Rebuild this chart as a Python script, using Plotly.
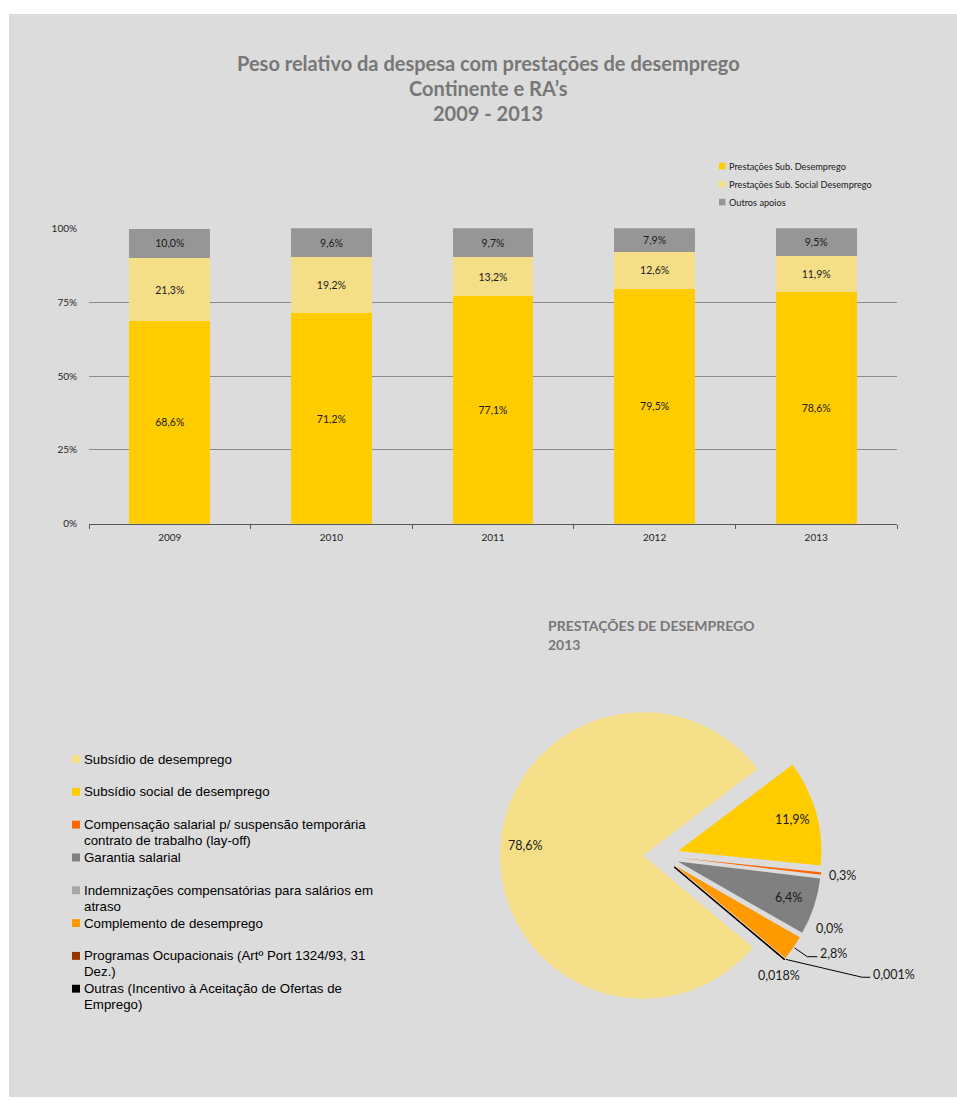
import math
import textwrap
import plotly.graph_objects as go

# ---------------- data ----------------
years = ["2009", "2010", "2011", "2012", "2013"]
sub_desemprego = [68.6, 71.2, 77.1, 79.5, 78.6]
sub_social = [21.3, 19.2, 13.2, 12.6, 11.9]
outros_apoios = [10.0, 9.6, 9.7, 7.9, 9.5]
bar_names = ["Prestações Sub. Desemprego", "Prestações Sub. Social Desemprego", "Outros apoios"]
y_ticks = [0, 25, 50, 75, 100]

pie_names = [
    "Subsídio de desemprego",
    "Subsídio social de desemprego",
    "Compensação salarial p/ suspensão temporária contrato de trabalho (lay-off)",
    "Garantia salarial",
    "Indemnizações compensatórias para salários em atraso",
    "Complemento de desemprego",
    "Programas Ocupacionais (Artº Port 1324/93, 31 Dez.)",
    "Outras (Incentivo à Aceitação de Ofertas de Emprego)",
]
pie_values = [78.6, 11.9, 0.3, 6.4, 0.0, 2.8, 0.018, 0.001]

title_lines = ["Peso relativo da despesa com prestações de desemprego", "Continente e RA’s", "2009 - 2013"]
pie_title_lines = ["PRESTAÇÕES DE DESEMPREGO", "2013"]

# ---------------- styles ----------------
W, H = 957, 1103
bar_colors = ["#FFCC00", "#F5DE88", "#969696"]
pie_colors = ["#F5DE88", "#FFCC00", "#FF6600", "#808080", "#A6A6A6", "#FF9900", "#993300", "#000000"]
BG = "#DCDCDC"
LABEL_FONT = "Lato, Open Sans, sans-serif"
LEGEND_FONT = "Liberation Sans, Arial, sans-serif"
TITLE_GRAY = "#777777"


def px(x):
    return x / W


def py(y):
    return 1 - y / H


def pct(v):
    if v == 0 or v >= 0.1:
        s = f"{v:.1f}"
    else:
        s = f"{v:.3f}"
    return s.replace(".", ",") + "%"


fig = go.Figure()

# ---------------- stacked 100% bars ----------------
for name, vals, col in zip(bar_names, [sub_desemprego, sub_social, outros_apoios], bar_colors):
    fig.add_trace(go.Bar(
        x=years, y=vals, name=name, marker=dict(color=col, line=dict(width=0)),
        text=[pct(v) for v in vals], textposition="inside", insidetextanchor="middle",
        textangle=0, textfont=dict(family=LABEL_FONT, size=10.5, color="#1a1a1a"),
        showlegend=False,
    ))

# ---------------- exploded pie ----------------
PIE_CX, PIE_CY, PIE_R, PULL, ROT = 661, 859, 145, 0.124, 130
half = PIE_R * (1 + PULL)
line_w = [0, 0, 0, 0, 0, 0, 1.3, 1.3]
fig.add_trace(go.Pie(
    labels=pie_names, values=pie_values, sort=False, direction="clockwise", rotation=ROT,
    pull=[PULL] * len(pie_values), textinfo="none", hoverinfo="label+percent",
    marker=dict(colors=pie_colors, line=dict(color=pie_colors, width=line_w)),
    domain=dict(x=[px(PIE_CX - half), px(PIE_CX + half)], y=[py(PIE_CY + half), py(PIE_CY - half)]),
    showlegend=False,
))

annotations = []
shapes = [dict(type="rect", xref="paper", yref="paper", x0=px(9), x1=1, y0=0, y1=py(7),
               fillcolor=BG, line=dict(width=0), layer="below")]

# slice mid angles (clockwise from 12 o'clock)
total = sum(pie_values)
mids = []
acc = 0
for v in pie_values:
    mids.append(ROT + (acc + v / 2) / total * 360)
    acc += v


def polar(k, ang):
    a = math.radians(ang)
    return PIE_CX + k * PIE_R * math.sin(a), PIE_CY - k * PIE_R * math.cos(a)


# label placement: (radial factor, angle offset, anchor)
label_spec = [
    (0.94, 3, "center"), (0.94, 0, "center"), (1.15, 0.5, "left"), (0.925, 0, "center"),
    (1.17, -4, "left"), None, (1.166, 6, "center"), None,
]
pie_font = dict(family=LABEL_FONT, size=12.5, color="#1a1a1a")
for i, spec in enumerate(label_spec):
    if spec is None:
        continue
    k, da, anchor = spec
    x, y = polar(k, mids[i] + da)
    annotations.append(dict(x=px(x), y=py(y), xref="paper", yref="paper", text=pct(pie_values[i]),
                            showarrow=False, xanchor=anchor, yanchor="middle", font=pie_font))

# leader lines for the thin slices
tip = 1 + PULL
leaders = {5: (1.23, 0, 10), 7: (1.626, -8.6, 8)}
for i, (k2, da, run) in leaders.items():
    x0, y0 = polar(tip, mids[i])
    x1, y1 = polar(k2, mids[i] + da)
    x2 = x1 + run
    shapes.append(dict(type="path", xref="paper", yref="paper",
                       path=f"M {px(x0)},{py(y0)} L {px(x1)},{py(y1)} L {px(x2)},{py(y1)}",
                       line=dict(color="#000000", width=1)))
    annotations.append(dict(x=px(x2 + 1), y=py(y1 - 3), xref="paper", yref="paper", text=pct(pie_values[i]),
                            showarrow=False, xanchor="left", yanchor="middle", font=pie_font))

# ---------------- legends ----------------
# bar legend (top right)
for j, (name, col) in enumerate(zip(bar_names, bar_colors)):
    yc = 161 + 18.2 * j
    shapes.append(dict(type="rect", xref="paper", yref="paper", x0=px(719), x1=px(725.5),
                       y0=py(yc + 3.3), y1=py(yc - 3.3), fillcolor=col, line=dict(width=0)))
    annotations.append(dict(x=px(726.5), y=py(yc), xref="paper", yref="paper", text=name, showarrow=False,
                            xanchor="left", yanchor="middle",
                            font=dict(family=LABEL_FONT, size=9.2, color="#1a1a1a")))

# pie legend (left)
LEG_SIZE = 13.3
lh = 16.3
for j, (name, col) in enumerate(zip(pie_names, pie_colors)):
    yc = 761 + 33.2 * j
    lines = textwrap.wrap(name, 46)
    shapes.append(dict(type="rect", xref="paper", yref="paper", x0=px(72), x1=px(80),
                       y0=py(yc + 4), y1=py(yc - 4), fillcolor=col, line=dict(width=0)))
    for n, line in enumerate(lines):
        annotations.append(dict(x=px(81.5), y=py(yc + n * lh), xref="paper", yref="paper",
                                text=line, showarrow=False, xanchor="left", yanchor="middle",
                                font=dict(family=LEGEND_FONT, size=LEG_SIZE, color="#000000")))

# ---------------- titles ----------------
for j, t in enumerate(title_lines):
    annotations.append(dict(x=px(488), y=py(57 + 25 * j), xref="paper", yref="paper", text=t, showarrow=False,
                            xanchor="center", yanchor="middle",
                            font=dict(family=LABEL_FONT, size=20, color=TITLE_GRAY, weight="bold")))
for j, t in enumerate(pie_title_lines):
    annotations.append(dict(x=px(545.5), y=py(626 + 19.5 * j), xref="paper", yref="paper", text=t,
                            showarrow=False, xanchor="left", yanchor="middle",
                            font=dict(family=LABEL_FONT, size=14, color=TITLE_GRAY, weight="bold")))

fig.update_layout(
    width=W, height=H, margin=dict(l=0, r=0, t=0, b=0),
    paper_bgcolor="white", plot_bgcolor="rgba(0,0,0,0)",
    barmode="stack", bargap=0.5,
    xaxis=dict(domain=[px(89), px(897)], type="category", tickson="boundaries", ticks="outside", ticklen=4,
               tickcolor="#595959", showline=True, linecolor="#595959", linewidth=1, showgrid=False,
               ticklabelstandoff=4,
               tickfont=dict(family=LABEL_FONT, size=10, color="#262626"), fixedrange=True),
    yaxis=dict(domain=[py(523), py(224)], range=[0, 100], tickvals=y_ticks,
               ticktext=[f"{v}%" for v in y_ticks], showgrid=True, gridcolor="#8C8C8C", gridwidth=1,
               zeroline=False, showline=False, ticks="", ticklabelstandoff=11,
               tickfont=dict(family=LABEL_FONT, size=10, color="#262626"), fixedrange=True),
    shapes=shapes, annotations=annotations, showlegend=False,
)

fig.write_html("out.html")
